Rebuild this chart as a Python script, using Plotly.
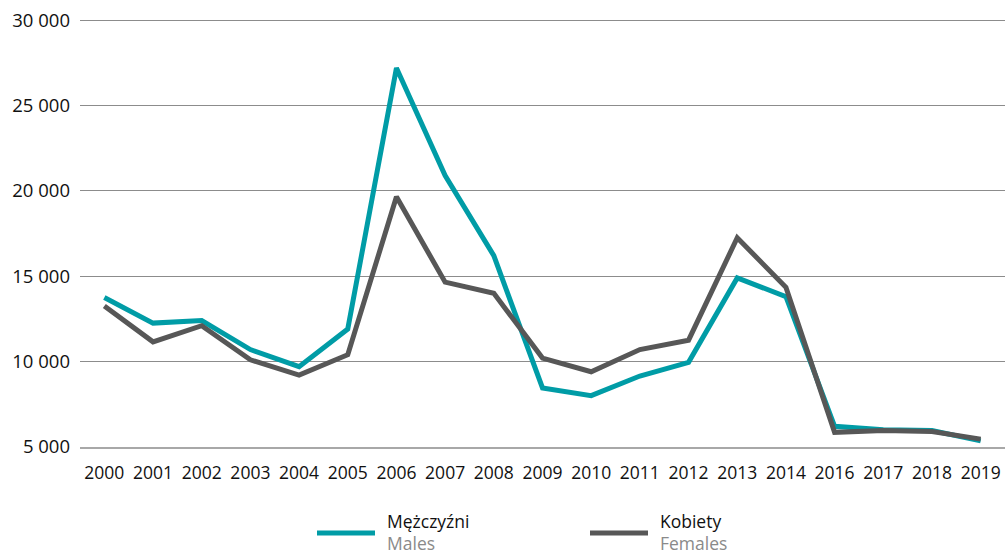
import plotly.graph_objects as go

years = ["2000", "2001", "2002", "2003", "2004", "2005", "2006", "2007", "2008", "2009",
         "2010", "2011", "2012", "2013", "2014", "2016", "2017", "2018", "2019"]
males = [13750, 12250, 12400, 10700, 9700, 11900, 27200, 20900, 16200, 8450,
         8000, 9150, 9950, 14900, 13800, 6200, 6000, 5950, 5350]
females = [13250, 11150, 12100, 10100, 9200, 10400, 19650, 14650, 14000, 10200,
           9400, 10700, 11250, 17250, 14350, 5850, 5950, 5900, 5450]
y_ticks = [5000, 10000, 15000, 20000, 25000, 30000]
y_labels = ["5 000", "10 000", "15 000", "20 000", "25 000", "30 000"]

series_names_pl = ["Mężczyźni", "Kobiety"]
series_names_en = ["Males", "Females"]
colors = ["#009ca6", "#575757"]

FONT = "Open Sans"

fig = go.Figure()
for vals, name, col in zip([males, females], series_names_pl, colors):
    fig.add_trace(go.Scatter(
        x=years, y=vals, mode="lines", name=name,
        line=dict(color=col, width=5, shape="linear"),
        showlegend=False,
    ))

# manual legend (longer line symbols, two-line labels)
legend_x0 = [317, 590]
W, H = 1005, 554
PL, PT, PW, PH = 80, 19, 925, 428


def px(x):
    return (x - PL) / PW


def py(y):
    return (PT + PH - y) / PH


for i, (pl, en, col) in enumerate(zip(series_names_pl, series_names_en, colors)):
    x0 = legend_x0[i]
    fig.add_shape(type="line", xref="paper", yref="paper",
                  x0=px(x0), x1=px(x0 + 58), y0=py(533), y1=py(533),
                  line=dict(color=col, width=5), layer="above")
    fig.add_annotation(xref="paper", yref="paper", x=px(x0 + 68),
                       y=py(521), xanchor="left", yanchor="middle",
                       text=pl, showarrow=False,
                       font=dict(family=FONT, size=17.5, color="#111111"))
    fig.add_annotation(xref="paper", yref="paper", x=px(x0 + 68),
                       y=py(543), xanchor="left", yanchor="middle",
                       text=en, showarrow=False,
                       font=dict(family=FONT, size=17.5, color="#8a8a8a"))

fig.update_layout(
    width=W, height=H,
    margin=dict(l=PL, r=0, t=PT, b=H - PT - PH),
    paper_bgcolor="white", plot_bgcolor="white",
    font=dict(family=FONT, size=17.5, color="#111111"),
    showlegend=False,
)
fig.update_xaxes(
    type="category", range=[-0.5, 18.5],
    showgrid=False, zeroline=False,
    showline=True, linecolor="#a8a8a8", linewidth=2,
    ticks="", ticklabelstandoff=9,
    tickfont=dict(family=FONT, size=17.5, color="#111111"),
    tickangle=0,
)
fig.update_yaxes(
    range=[4990, 30070], tickvals=y_ticks, ticktext=y_labels,
    showgrid=True, gridcolor="#8c8c8c", gridwidth=1,
    zeroline=False, showline=False, ticks="",
    ticklabelstandoff=9,
    tickfont=dict(family=FONT, size=18.5, color="#111111"),
)

fig.write_html(
    "out.html",
    config={"displayModeBar": False},
    post_script="document.body.style.margin='0';document.body.style.overflow='hidden';",
)
